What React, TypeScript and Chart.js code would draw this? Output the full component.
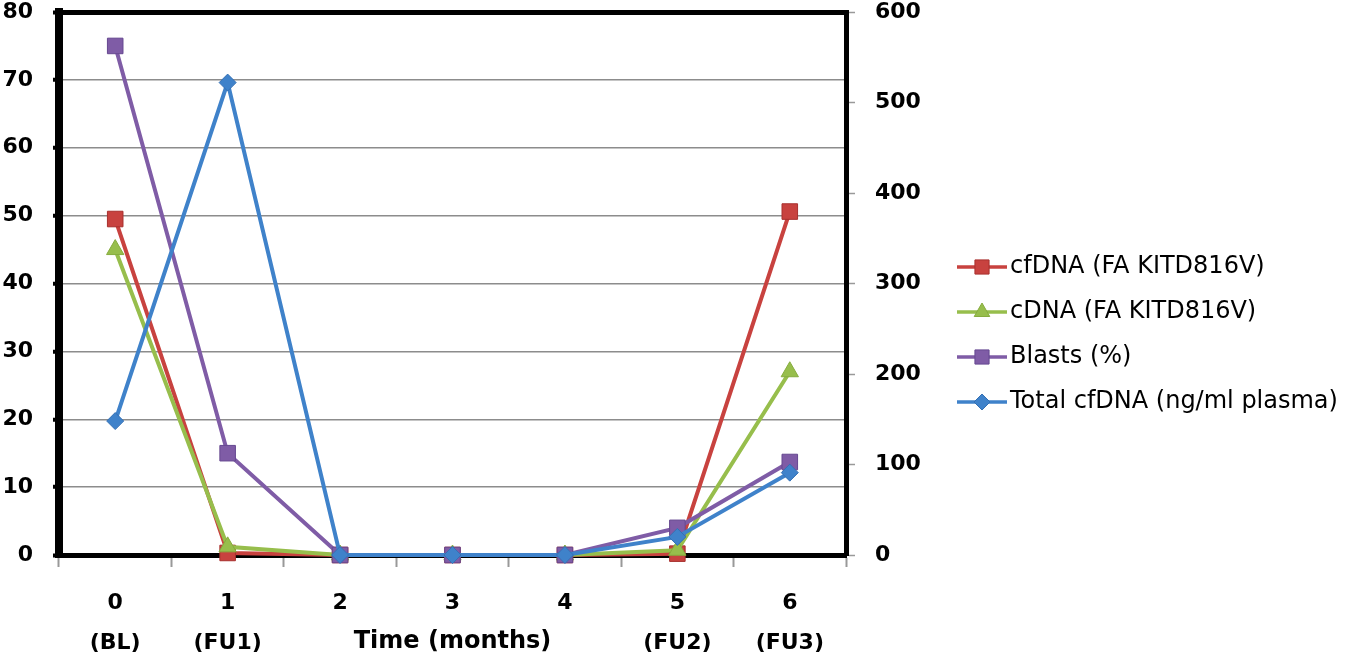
import { useEffect, useRef } from 'react'
import { Chart, registerables } from 'chart.js'
import { drawPoint } from 'chart.js/helpers'

Chart.register(...registerables)

// time points (months) with visit names under them
const timeLabels = [
  ['0', '(BL)'],
  ['1', '(FU1)'],
  ['2', ''],
  ['3', ''],
  ['4', ''],
  ['5', '(FU2)'],
  ['6', '(FU3)'],
]

// left axis (%)
const cfDnaFA = [49.5, 0.3, 0, 0, 0, 0.2, 50.6]
const cDnaFA = [45, 1.2, 0, 0, 0, 0.7, 27]
const blasts = [75, 15, 0, 0, 0, 4, 13.7]
// right axis (ng/ml plasma)
const totalCfDna = [148, 522, 0, 0, 0, 20, 91]

const seriesNames = [
  'cfDNA (FA KITD816V)',
  'cDNA (FA KITD816V)',
  'Blasts (%)',
  'Total cfDNA (ng/ml plasma)',
]

const leftMax = 80
const leftStep = 10
const rightMax = 600
const rightStep = 100

const axisFont = { family: '"DejaVu Sans"', size: 22, weight: 'bold' as const }

// Excel-style legend: short line with the marker on it, to the right of the plot
const sideLegend = {
  id: 'sideLegend',
  afterDraw(chart: Chart) {
    const { ctx } = chart
    const x0 = chart.chartArea.right + 111
    const y0 = 267
    const gap = 45
    ctx.save()
    chart.data.datasets.forEach((ds: any, i: number) => {
      const y = y0 + i * gap
      ctx.strokeStyle = ds.borderColor
      ctx.lineWidth = 3.5
      ctx.beginPath()
      ctx.moveTo(x0, y)
      ctx.lineTo(x0 + 50, y)
      ctx.stroke()
      ctx.fillStyle = ds.pointBackgroundColor
      ctx.strokeStyle = ds.pointBorderColor
      ctx.lineWidth = 1
      drawPoint(ctx, {
        pointStyle: ds.pointStyle,
        radius: ds.pointStyle === 'rect' ? 10 : ds.pointStyle === 'triangle' ? 9 : 8,
        rotation: 0,
        borderWidth: 1,
      } as any, x0 + 25, y)
      ctx.fillStyle = '#000'
      ctx.font = '24px "DejaVu Sans"'
      ctx.textBaseline = 'middle'
      ctx.textAlign = 'left'
      ctx.fillText(ds.label, x0 + 53, y)
    })
    ctx.restore()
  },
}

export default function App() {
  const canvasRef = useRef<HTMLCanvasElement | null>(null)
  const chartRef = useRef<Chart | null>(null)

  useEffect(() => {
    document.body.style.margin = '0'
    if (!canvasRef.current) return
    if (chartRef.current) chartRef.current.destroy()

    const line = (label: string, data: number[], color: string, edge: string, style: string, radius: number, axis: string, order: number) => ({
      label,
      data,
      yAxisID: axis,
      order,
      borderColor: color,
      borderWidth: 4,
      tension: 0,
      pointStyle: style,
      pointRadius: radius,
      pointBackgroundColor: color,
      pointBorderColor: edge,
      pointBorderWidth: 1,
      clip: false as const,
    })

    // vertical axes: keep only half a label of room above / below the plot
    const trimPadding = (s: any, width: number) => {
      s.width = width
      s.paddingTop = 12
      s.paddingBottom = 12
    }

    chartRef.current = new Chart(canvasRef.current, {
      type: 'line',
      data: {
        labels: timeLabels,
        datasets: [
          line(seriesNames[0], cfDnaFA, '#C8423F', '#A8302E', 'rect', 11, 'y', 4),
          line(seriesNames[1], cDnaFA, '#97BE4C', '#86AC3E', 'triangle', 10, 'y', 3),
          line(seriesNames[2], blasts, '#7F5CA6', '#664890', 'rect', 11, 'y', 2),
          line(seriesNames[3], totalCfDna, '#3F82CA', '#3470B4', 'rectRot', 8.5, 'y1', 1),
        ] as any,
      },
      options: {
        animation: false,
        responsive: true,
        maintainAspectRatio: false,
        layout: { padding: { left: 0, right: 424, top: 0, bottom: 0 } },
        plugins: {
          legend: { display: false },
          tooltip: { enabled: false },
        },
        scales: {
          x: {
            type: 'category',
            offset: true,
            ticks: {
              color: '#000',
              font: { ...axisFont, lineHeight: 40 / 22 },
              padding: 16,
              maxRotation: 0,
              autoSkip: false,
            },
            grid: {
              drawOnChartArea: false,
              offset: true,
              tickColor: '#999',
              tickWidth: 2,
              tickLength: 12,
            },
            border: { color: '#000', width: 5 },
            title: {
              display: true,
              text: 'Time (months)',
              color: '#000',
              font: { family: '"DejaVu Sans"', size: 24, weight: 'bold' },
              padding: { top: 0, bottom: 6 },
            },
            afterFit: (s: any) => { s.height = 107 },
          },
          y: {
            position: 'left',
            min: 0,
            max: leftMax,
            ticks: { stepSize: leftStep, color: '#000', font: axisFont, padding: 20 },
            grid: {
              color: (c: any) => (c.tick.value === leftMax || c.tick.value === 0 ? '#000' : '#8c8c8c'),
              lineWidth: (c: any) => (c.tick.value === leftMax || c.tick.value === 0 ? 5 : 1.5),
              tickColor: '#000',
              tickWidth: 4,
              tickLength: 6,
            },
            border: { color: '#000', width: 8 },
            afterFit: (s: any) => trimPadding(s, 59),
          },
          y1: {
            position: 'right',
            min: 0,
            max: rightMax,
            ticks: { stepSize: rightStep, color: '#000', font: axisFont, padding: 20 },
            grid: {
              drawOnChartArea: false,
              tickColor: '#999',
              tickWidth: 1.5,
              tickLength: 9,
            },
            border: { color: '#000', width: 5 },
            afterFit: (s: any) => trimPadding(s, 80),
          },
        },
      },
      plugins: [sideLegend],
    })

    return () => {
      if (chartRef.current) {
        chartRef.current.destroy()
        chartRef.current = null
      }
    }
  }, [])

  return (
    <div style={{ position: 'fixed', left: 0, top: 0, width: 1350, height: 662, background: '#fff' }}>
      <canvas ref={canvasRef}></canvas>
    </div>
  )
}
